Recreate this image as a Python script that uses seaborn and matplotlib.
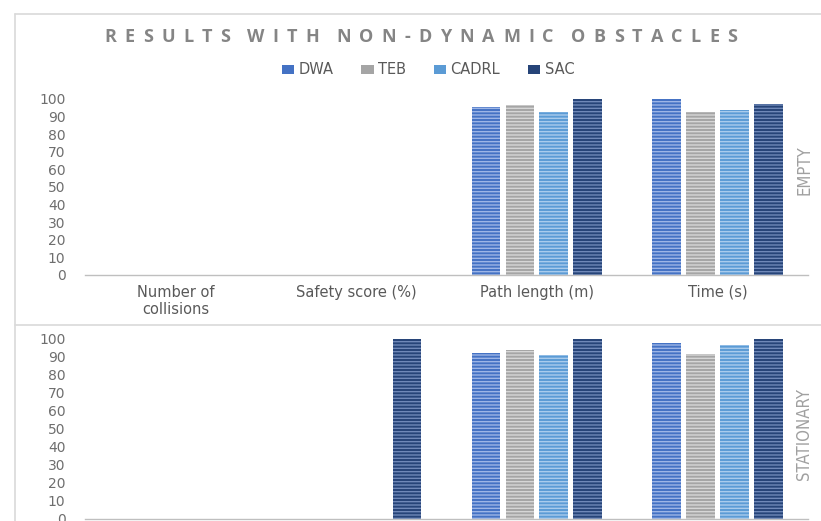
import matplotlib
matplotlib.use("Agg")
import matplotlib.pyplot as plt
from matplotlib.patches import Patch
from matplotlib.lines import Line2D
from matplotlib.font_manager import FontProperties
from matplotlib.textpath import TextToPath
import seaborn as sns
import pandas as pd

# ---- data -------------------------------------------------------------
metrics = ["Number of\ncollisions", "Safety score (%)", "Path length (m)", "Time (s)"]
planners = ["DWA", "TEB", "CADRL", "SAC"]

empty_dwa = [0, 0, 95.4, 100.0]
empty_teb = [0, 0, 96.6, 92.8]
empty_cadrl = [0, 0, 92.4, 93.7]
empty_sac = [0, 0, 100.0, 97.3]

stationary_dwa = [0, 0, 92.4, 97.6]
stationary_teb = [0, 0, 93.9, 91.4]
stationary_cadrl = [0, 0, 90.9, 96.4]
stationary_sac = [0, 100.0, 100.0, 100.0]

panel_names = ["EMPTY", "STATIONARY"]
yticks = [0, 10, 20, 30, 40, 50, 60, 70, 80, 90, 100]

colors = ["#4472C4", "#A5A5A5", "#5B9BD5", "#264478"]
stripe_colors = ["#9DB5E6", "#D6D6D6", "#A9CBEC", "#6F88B8"]


def long_table(series):
    rows = []
    for planner, values in zip(planners, series):
        for metric, v in zip(metrics, values):
            rows.append({"metric": metric, "planner": planner, "value": v})
    return pd.DataFrame(rows)


df_empty = long_table([empty_dwa, empty_teb, empty_cadrl, empty_sac])
df_stat = long_table([stationary_dwa, stationary_teb, stationary_cadrl, stationary_sac])

# ---- figure -----------------------------------------------------------
sns.set_theme(style="white")
plt.rcParams["font.family"] = ["DejaVu Sans"]
plt.rcParams["hatch.linewidth"] = 1.0

W, H = 821, 521
fig = plt.figure(figsize=(W / 100, H / 100), dpi=100)
fig.patch.set_facecolor("white")

label_color = "#595959"
frame_color = "#D9D9D9"


def px_box(x0, x1, y_top, y_bottom):
    return [x0 / W, 1 - y_bottom / H, (x1 - x0) / W, (y_bottom - y_top) / H]


ax_top = fig.add_axes(px_box(85, 808, 99, 275))
ax_bot = fig.add_axes(px_box(85, 808, 339, 519))

for ax, df in [(ax_top, df_empty), (ax_bot, df_stat)]:
    sns.barplot(data=df, x="metric", y="value", hue="planner",
                hue_order=planners, order=metrics, palette=colors,
                width=0.75, gap=0.15, legend=False, ax=ax,
                errorbar=None, linewidth=0, saturation=1)
    # horizontal stripe texture on each bar
    for container, sc in zip(ax.containers, stripe_colors):
        for bar in container:
            bar.set_hatch("-----")
            bar.set_edgecolor(sc)
            bar.set_linewidth(0)
    ax.set_ylim(0, 100)
    ax.set_xlim(-0.5, 3.5)
    ax.set_yticks(yticks)
    ax.set_yticklabels([str(t) for t in yticks])
    ax.set_xlabel("")
    ax.set_ylabel("")
    for side in ["top", "right", "left"]:
        ax.spines[side].set_visible(False)
    ax.spines["bottom"].set_color("#BFBFBF")
    ax.spines["bottom"].set_linewidth(1.0)
    ax.tick_params(axis="y", length=0, pad=14, labelsize=10, labelcolor="#6E6E6E")
    ax.tick_params(axis="x", length=0, pad=7, labelsize=10.5, labelcolor=label_color)
    ax.set_facecolor("none")

ax_bot.set_xticklabels([])

# ---- chart frame lines ------------------------------------------------
fig.add_artist(Line2D([15 / W, 1], [1 - 14 / H, 1 - 14 / H], color=frame_color, lw=1.2))
fig.add_artist(Line2D([15 / W, 15 / W], [1 - 14 / H, 0], color=frame_color, lw=1.2))
fig.add_artist(Line2D([15 / W, 1], [1 - 325 / H, 1 - 325 / H], color=frame_color, lw=1.2))

# ---- letter-spaced title ---------------------------------------------
title = "RESULTS WITH NON-DYNAMIC OBSTACLES"
tprop = FontProperties(family="Open Sans", weight="bold", size=13)
ttp = TextToPath()
adv = [ttp.get_text_width_height_descent(c, tprop, ismath=False)[0] * 100 / 72 for c in title]
span = 633
# full tracking after glyphs, half tracking after spaces
weights = [0.5 if c == " " else 1.0 for c in title[:-1]]
track = (span - sum(adv)) / sum(weights)
x = 421 - span / 2
for i, (c, a) in enumerate(zip(title, adv)):
    if c != " ":
        fig.text(x / W, 1 - 42 / H, c, fontproperties=tprop, color="#858585",
                 ha="left", va="baseline")
    if i < len(weights):
        x += a + track * weights[i]

# ---- legend -----------------------------------------------------------
handles = [Patch(facecolor=c, edgecolor="none") for c in colors]
fig.legend(handles, planners, loc="center", bbox_to_anchor=(428 / W, 1 - 70 / H),
           ncol=4, frameon=False, fontsize=10.5, labelcolor=label_color,
           handlelength=0.85, handleheight=0.6, handletextpad=0.3,
           columnspacing=1.9)

# ---- panel labels -----------------------------------------------------
side_prop = FontProperties(family="DejaVu Sans", stretch="condensed", size=12)
fig.text(804 / W, 1 - 170 / H, panel_names[0], rotation=90, ha="center", va="center",
         fontproperties=side_prop, color="#A0A0A0")
fig.text(804 / W, 1 - 434 / H, panel_names[1], rotation=90, ha="center", va="center",
         fontproperties=side_prop, color="#A0A0A0")

fig.savefig("out.png", dpi=100, facecolor="white")
